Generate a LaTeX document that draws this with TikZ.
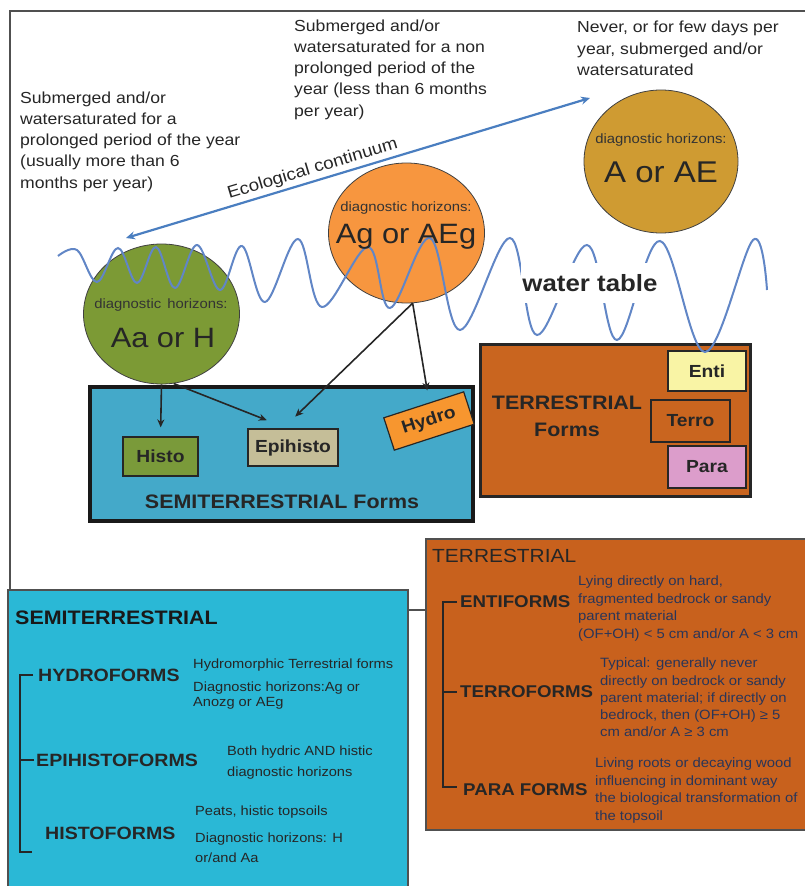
\documentclass[tikz,border=0pt]{standalone}
\usepackage{fontspec}
\setmainfont{Liberation Sans}[FakeStretch=1.1]
\usetikzlibrary{shapes.geometric,arrows.meta}
\newcommand{\fsz}[2]{\fontsize{#1}{#2}\selectfont}
\definecolor{txtdark}{HTML}{262626}
\definecolor{framegray}{HTML}{505050}
\definecolor{semiblue}{HTML}{44A9C9}
\definecolor{semicyan}{HTML}{2AB8D6}
\definecolor{terrbrown}{HTML}{C9651F}
\definecolor{terrpanel}{HTML}{C8611D}
\definecolor{histogreen}{HTML}{7A9A3A}
\definecolor{circgreen}{HTML}{7C9A35}
\definecolor{circorange}{HTML}{F7963F}
\definecolor{circgold}{HTML}{CF9B32}
\definecolor{epitan}{HTML}{C5BE98}
\definecolor{hydroorange}{HTML}{F7962F}
\definecolor{entiyellow}{HTML}{F9F4A5}
\definecolor{parapink}{HTML}{DC9DCB}
\definecolor{wavecol}{HTML}{6186C6}
\definecolor{ecoblue}{HTML}{4A7EC0}
\definecolor{descblue}{HTML}{2A3558}
\begin{document}
\begin{tikzpicture}[x=1pt,y=-1pt,
  toptext/.style={anchor=west, align=left, inner sep=0pt, text=txtdark, font=\fsz{16}{21.3}},
  horizon/.style={ellipse, draw=black!75, line width=0.8pt, minimum width=156pt, minimum height=140pt, inner sep=0pt},
  dhsmall/.style={inner sep=0pt, text=black!80, font=\fsz{13.5}{16}},
  dhbig/.style={inner sep=0pt, text=black!85, font=\fsz{28}{32}},
  formbox/.style={draw=black!85, line width=1.2pt, inner sep=0pt, text=black!85, font=\bfseries\fsz{17.5}{20}},
  boxtitle/.style={inner sep=0pt, align=center, text=txtdark, font=\bfseries\fsz{19.5}{27}},
  flow/.style={-{Stealth[length=8pt,width=7pt]}, line width=1.6pt, black!85, shorten >=#1},
  flow/.default=0pt,
  treeline/.style={line width=1.8pt, black!85},
  formname/.style={anchor=west, inner sep=0pt, text=black!85, font=\bfseries\fsz{17.8}{20}},
  desc/.style={anchor=west, align=left, inner sep=0pt, text=black!85, font=\fsz{13.3}{15.5}},
  tdesc/.style={anchor=west, align=left, inner sep=0pt, text=descblue, font=\fsz{13.5}{17.5}}]
\useasboundingbox (0,0) rectangle (804,886);

% frame and panels
\draw[framegray, line width=1.3pt] (10,11) rectangle (812,610);
\draw[framegray, line width=1.5pt, fill=semicyan] (8,590) rectangle (408,892);
\draw[framegray, line width=1.5pt, fill=terrpanel] (426,539) rectangle (812,830);

% top texts
\node[toptext] (wettext) at (20,141.5) {Submerged and/or\\watersaturated for a\\prolonged period of the year\\(usually more than 6\\months per year)};
\node[toptext] (midtext) at (294,69.5) {Submerged and/or\\watersaturated for a non\\prolonged period of the\\year (less than 6 months\\per year)};
\node[toptext] (drytext) at (577,48.5) {Never, or for few days per\\year, submerged and/or\\watersaturated};

% horizons
\node[horizon, fill=circgreen] (green) at (161.5,314) {};
\node[horizon, fill=circorange] (orange) at (406.5,233) {};
\node[horizon, fill=circgold, minimum width=154pt, minimum height=143pt] (gold) at (661,161.5) {};

% forms boxes
\node[draw=black!90, line width=4.5pt, fill=semiblue, minimum width=383pt, minimum height=134pt] (semi) at (281.5,454) {};
\node[draw=black!85, line width=3pt, fill=terrbrown, minimum width=270pt, minimum height=152pt] (terr) at (615.5,420.5) {};
\node[formbox, fill=histogreen, minimum width=75pt, minimum height=39pt] (histo) at (160.5,456.5) {Histo};
\node[formbox, fill=epitan, minimum width=90pt, minimum height=37pt] (epihisto) at (293,447.5) {Epihisto};
\node[formbox, fill=hydroorange, minimum width=84pt, minimum height=34pt, rotate=18] (hydro) at (429,421) {Hydro};
\node[formbox, fill=entiyellow, minimum width=78pt, minimum height=40pt] (enti) at (707,371) {Enti};
\node[formbox, fill=terrbrown, line width=2.6pt, minimum width=79pt, minimum height=42pt] (terro) at (690.5,421) {Terro};
\node[formbox, fill=parapink, minimum width=78pt, minimum height=42pt] (para) at (707,467) {Para};
\node[boxtitle] (semilabel) at (282,502) {SEMITERRESTRIAL Forms};
\node[boxtitle] (terrlabel) at (567,416) {TERRESTRIAL\\Forms};

% water table
\draw[wavecol, line width=2pt] plot[smooth, tension=0.6] coordinates {
  (58,256) (77,250) (97,282) (118,248) (137,283) (156,247) (175,288)
  (197,245) (220,290) (242,246) (265,302) (298,239) (322,307) (368,247)
  (390,308) (430,238) (460,330) (510,238) (537,335) (587,245) (617,340)
  (660,241) (705,352) (753,240) (767,290)};
\node[fill=white, inner xsep=1pt, inner ysep=11pt, text=txtdark, font=\bfseries\fsz{23.5}{26}] (watertable) at (590,283) {water table};

% horizon texts
\node[dhsmall] (greensmall) at (161,305) {diagnostic\hspace{0.45em}horizons:};
\node[dhbig] (greenbig) at (163,338) {Aa or H};
\node[dhsmall] (orangesmall) at (406,208) {diagnostic horizons:};
\node[dhbig] (orangebig) at (406,237) {Ag or AEg};
\node[dhsmall] (goldsmall) at (661,140) {diagnostic horizons:};
\node[dhbig, font=\fsz{30}{32}] (goldbig) at (661,172) {A or AE};

% ecological continuum
\coordinate (wetend) at (126,238);
\coordinate (dryend) at (590,98);
\draw[ecoblue, line width=2.2pt, {Stealth[length=9pt,width=8pt]}-{Stealth[length=9pt,width=8pt]}] (wetend) -- node[pos=0.41, above=3pt, sloped, inner sep=0pt, text=txtdark, font=\fsz{17}{19}] (ecolabel) {Ecological continuum} (dryend);

% arrows
\draw[flow=9pt] (green.south) -- (histo.north);
\draw[flow=6pt] (green.-80) -- ([xshift=25pt,yshift=6pt]epihisto.north west);
\draw[flow=17pt] (orange.-85) -- ([xshift=-10pt]epihisto.north);
\draw[flow=14pt] (orange.-85) -- ([xshift=6pt]hydro.north);

% semiterrestrial panel
\node[anchor=west, inner sep=0pt, text=black!90, font=\bfseries\fsz{19.5}{22}] (semititle) at (15,618) {SEMITERRESTRIAL};
\node[formname] (hydroF) at (38,675) {HYDROFORMS};
\node[formname] (epiF) at (36,760) {EPIHISTOFORMS};
\node[formname] (histoF) at (45,833) {HISTOFORMS};
\draw[treeline] (33,675) -- (20,675) -- (20,852) -- (32,852);
\draw[treeline] (20,760) -- (34,760);
\node[desc] (hydroD1) at (193,665) {Hydromorphic Terrestrial forms};
\node[desc] (hydroD2) at (193,695.5) {Diagnostic horizons:Ag or\\Anozg or AEg};
\node[desc, font=\fsz{13.3}{21}] (epiD) at (227,762.5) {Both hydric AND histic\\diagnostic horizons};
\node[desc] (histoD1) at (195,812) {Peats, histic topsoils};
\node[desc, font=\fsz{13.3}{20}] (histoD2) at (195,848) {Diagnostic horizons: H\\or/and Aa};

% terrestrial panel
\node[anchor=west, inner sep=0pt, text=txtdark, font=\fsz{19}{22}] (terrtitle) at (432,556) {TERRESTRIAL};
\node[formname, font=\bfseries\fsz{17}{20}] (entiF) at (460,602) {ENTIFORMS};
\node[formname, font=\bfseries\fsz{17}{20}] (terroF) at (460,692) {TERROFORMS};
\node[formname, font=\bfseries\fsz{17}{20}] (paraF) at (463,790) {PARA FORMS};
\draw[treeline] (457,602) -- (443,602) -- (443,787) -- (457,787);
\draw[treeline] (443,692) -- (457,692);
\node[tdesc] (entiD) at (578,608.5) {Lying directly on hard,\\fragmented bedrock or sandy\\parent material\\(OF+OH) < 5 cm and/or A < 3 cm};
\node[tdesc, font=\fsz{13.5}{17.2}] (terroD) at (600,697.5) {Typical: generally never\\directly on bedrock or sandy\\parent material; if directly on\\bedrock, then (OF+OH) ≥ 5\\cm and/or A ≥ 3 cm};
\node[tdesc, font=\fsz{13.5}{17.7}] (paraD) at (595,790.5) {Living roots or decaying wood\\influencing in dominant way\\the biological transformation of\\the topsoil};
\end{tikzpicture}
\end{document}
